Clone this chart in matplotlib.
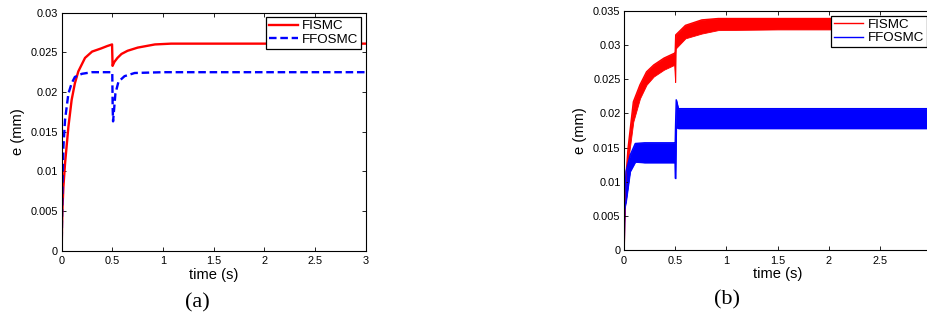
import matplotlib
matplotlib.use("Agg")
import matplotlib.pyplot as plt
from matplotlib.ticker import FixedLocator, FixedFormatter

# ---------------- data (a) ----------------
t_a_fismc = [0, 0.003, 0.008, 0.017, 0.033, 0.066, 0.098, 0.13, 0.164, 0.23, 0.30, 0.39, 0.45, 0.497,
             0.502, 0.52, 0.55, 0.59, 0.65, 0.75, 0.92, 1.08, 1.5, 2.0, 2.5, 3.0]
e_a_fismc = [0, 0.003, 0.0055, 0.0081, 0.0110, 0.0156, 0.0190, 0.0211, 0.0226, 0.0243, 0.0251, 0.0255, 0.0258, 0.0260,
             0.0233, 0.0238, 0.0243, 0.0248, 0.0252, 0.0256, 0.0260, 0.0261, 0.0261, 0.0261, 0.0261, 0.0261]

t_a_ffosmc = [0, 0.003, 0.008, 0.017, 0.033, 0.066, 0.098, 0.13, 0.2, 0.3, 0.499,
              0.503, 0.507, 0.515, 0.53, 0.56, 0.62, 0.72, 1.0, 1.5, 2.0, 2.5, 3.0]
e_a_ffosmc = [0, 0.004, 0.0085, 0.0131, 0.0165, 0.0198, 0.0211, 0.0219, 0.0223, 0.0225, 0.0225,
              0.0180, 0.0163, 0.0175, 0.0198, 0.0213, 0.0220, 0.0224, 0.0225, 0.0225, 0.0225, 0.0225, 0.0225]

# ---------------- data (b): chattering band (lower / upper envelopes) ----------------
t_b_fismc = [0, 0.004, 0.02, 0.04, 0.091, 0.156, 0.22, 0.29, 0.39, 0.49, 0.499,
             0.501, 0.505, 0.6, 0.76, 0.92, 1.5, 2.0, 2.5, 3.0]
lo_b_fismc = [0, 0.004, 0.0095, 0.013, 0.0188, 0.0222, 0.0242, 0.0254, 0.0264, 0.0271, 0.0246,
              0.0246, 0.0295, 0.0310, 0.0317, 0.0322, 0.0323, 0.0323, 0.0323, 0.0323]
hi_b_fismc = [0, 0.006, 0.0110, 0.0150, 0.0217, 0.0242, 0.0261, 0.0271, 0.0281, 0.0288, 0.0288,
              0.0295, 0.0315, 0.0329, 0.0337, 0.0339, 0.0339, 0.0339, 0.0339, 0.0339]

t_b_ffosmc = [0, 0.004, 0.02, 0.06, 0.11, 0.2, 0.3, 0.4, 0.497, 0.5,
              0.503, 0.51, 0.53, 0.6, 1.0, 1.5, 2.0, 2.5, 3.0]
lo_b_ffosmc = [0, 0.0060, 0.0071, 0.0115, 0.0129, 0.0128, 0.0128, 0.0128, 0.0128, 0.0105,
               0.0105, 0.0180, 0.0178, 0.0178, 0.0178, 0.0178, 0.0178, 0.0178, 0.0178]
hi_b_ffosmc = [0, 0.0070, 0.0115, 0.0139, 0.0156, 0.0157, 0.0157, 0.0157, 0.0157, 0.0157,
               0.0180, 0.0220, 0.0207, 0.0207, 0.0207, 0.0207, 0.0207, 0.0207, 0.0207]

series_labels = ["FISMC", "FFOSMC"]
x_ticks_a = [0, 0.5, 1, 1.5, 2, 2.5, 3]
x_ticklabels_a = ["0", "0.5", "1", "1.5", "2", "2.5", "3"]
x_ticks_b = [0, 0.5, 1, 1.5, 2, 2.5]
x_ticklabels_b = ["0", "0.5", "1", "1.5", "2", "2.5"]
y_ticks_a = [0, 0.005, 0.01, 0.015, 0.02, 0.025, 0.03]
y_ticklabels_a = ["0", "0.005", "0.01", "0.015", "0.02", "0.025", "0.03"]
y_ticks_b = [0, 0.005, 0.01, 0.015, 0.02, 0.025, 0.03, 0.035]
y_ticklabels_b = ["0", "0.005", "0.01", "0.015", "0.02", "0.025", "0.03", "0.035"]
x_label = "time (s)"
y_label = "e (mm)"
panel_labels = ["(a)", "(b)"]

# ---------------- figure ----------------
W, H = 928, 320
plt.rcParams['font.family'] = ['Liberation Sans', 'DejaVu Sans']
fig = plt.figure(figsize=(W / 100, H / 100), dpi=100)

def px_axes(x0, x1, ytop, ybot):
    return fig.add_axes([x0 / W, 1 - ybot / H, (x1 - x0) / W, (ybot - ytop) / H])

ax_a = px_axes(61.7, 365.7, 12.7, 250.7)
ax_b = px_axes(624, 931.2, 11, 250)

red = "#ff0000"
blue = "#0000ff"

la1, = ax_a.plot(t_a_fismc, e_a_fismc, color=red, lw=1.7)
la2, = ax_a.plot(t_a_ffosmc, e_a_ffosmc, color=blue, lw=1.7, ls=(0, (3.2, 1.6)))

ax_b.fill_between(t_b_fismc, lo_b_fismc, hi_b_fismc, facecolor=red, edgecolor=red, lw=0.6)
lb1, = ax_b.plot(t_b_fismc, hi_b_fismc, color=red, lw=1.0)
ax_b.fill_between(t_b_ffosmc, lo_b_ffosmc, hi_b_ffosmc, facecolor=blue, edgecolor=blue, lw=0.6)
lb2, = ax_b.plot(t_b_ffosmc, hi_b_ffosmc, color=blue, lw=1.0)
ax_b.plot(t_b_ffosmc, lo_b_ffosmc, color=blue, lw=0.8)

for ax, xt, xtl, yt, ytl, ymax, handles in [
        (ax_a, x_ticks_a, x_ticklabels_a, y_ticks_a, y_ticklabels_a, 0.03, [la1, la2]),
        (ax_b, x_ticks_b, x_ticklabels_b, y_ticks_b, y_ticklabels_b, 0.035, [lb1, lb2])]:
    ax.set_xlim(0, 3)
    ax.set_ylim(0, ymax)
    ax.xaxis.set_major_locator(FixedLocator(xt))
    ax.xaxis.set_major_formatter(FixedFormatter(xtl))
    ax.yaxis.set_major_locator(FixedLocator(yt))
    ax.yaxis.set_major_formatter(FixedFormatter(ytl))
    ax.tick_params(direction="in", length=3, width=0.6, labelsize=7.9, top=True, right=True,
                   colors="black")
    ax.tick_params(axis="x", pad=4)
    ax.tick_params(axis="y", pad=2.5)
    for s in ax.spines.values():
        s.set_linewidth(0.8)
    ax.set_xlabel(x_label, fontsize=10.6, labelpad=1)
    ax.set_ylabel(y_label, fontsize=10.6, labelpad=4)
    leg = ax.legend(handles, series_labels, loc="upper right", fontsize=9.6, frameon=True,
                    fancybox=False, edgecolor="black", framealpha=1, handlelength=2.2,
                    handletextpad=0.3, labelspacing=0.1, borderpad=0.2, borderaxespad=0.35)
    leg.get_frame().set_linewidth(0.9)

fig.text(197.7 / W, 1 - 303 / H, panel_labels[0], ha="center", va="center", fontsize=16,
         family=["Liberation Serif", "DejaVu Serif"])
fig.text(726.7 / W, 1 - 300 / H, panel_labels[1], ha="center", va="center", fontsize=16,
         family=["Liberation Serif", "DejaVu Serif"])

fig.savefig("out.png", dpi=100)
